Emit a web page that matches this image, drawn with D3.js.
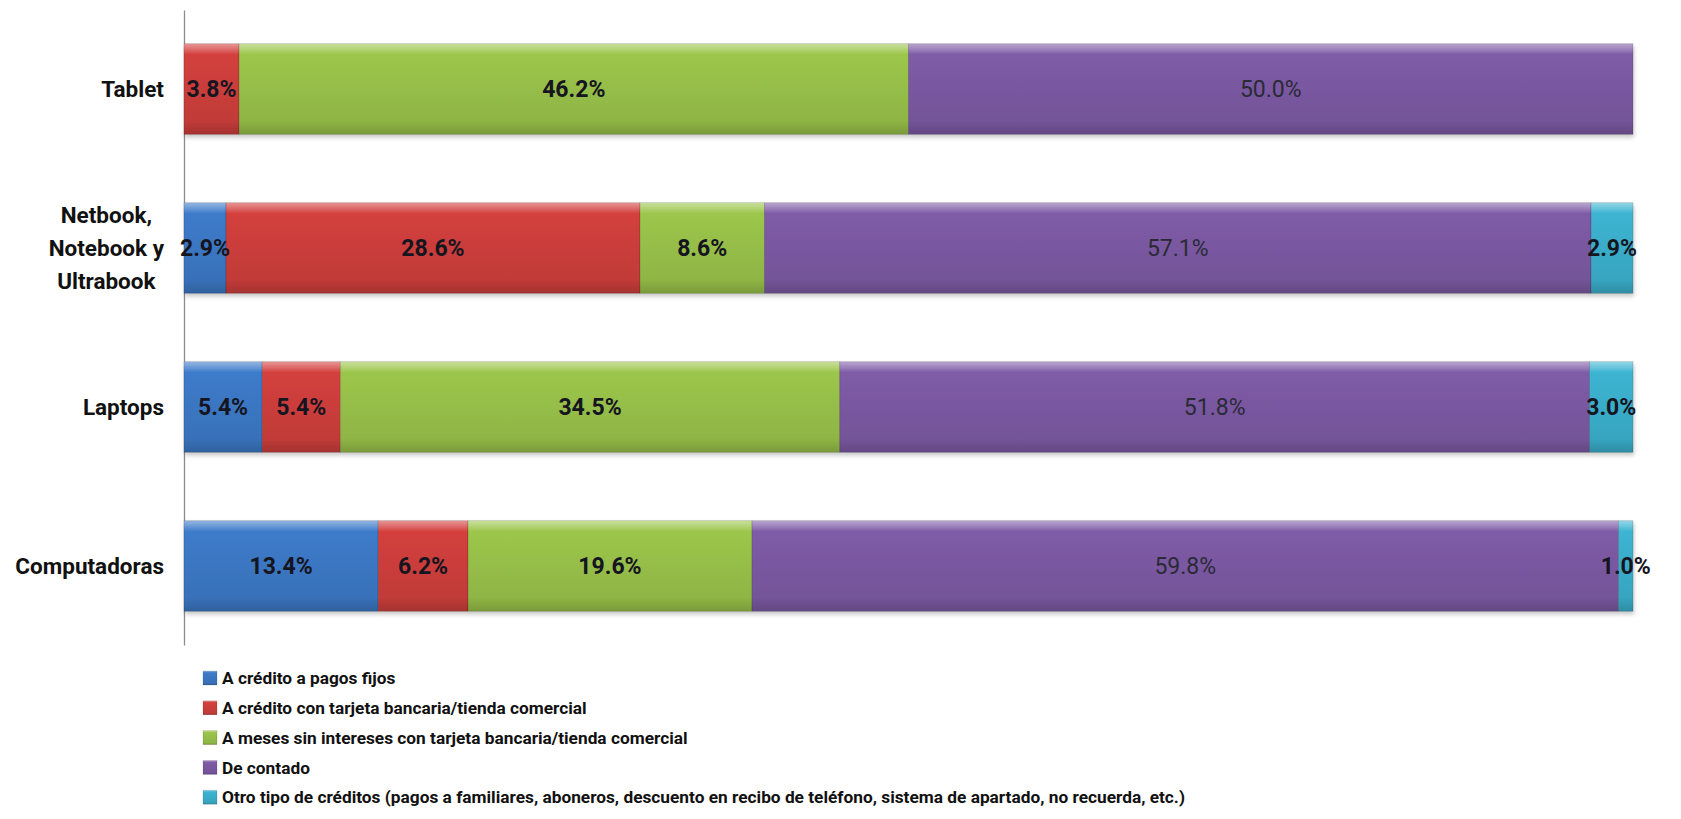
<!DOCTYPE html>
<html>
<head>
<meta charset="utf-8">
<script src="https://cdn.jsdelivr.net/npm/d3@7"></script>
<style>
  body { margin: 0; background: #fff; }
  text { font-family: Roboto, "Open Sans", sans-serif; }
</style>
</head>
<body>
<svg width="1681" height="819"></svg>
<script>
// categories, top to bottom
var categories = ["Tablet", "Netbook, Notebook y Ultrabook", "Laptops", "Computadoras"];
var catLines = [["Tablet"], ["Netbook,", "Notebook y", "Ultrabook"], ["Laptops"], ["Computadoras"]];

// series (percent per category)
var seriesNames = [
  "A crédito a pagos fijos",
  "A crédito con tarjeta bancaria/tienda comercial",
  "A meses sin intereses con tarjeta bancaria/tienda comercial",
  "De contado",
  "Otro tipo de créditos (pagos a familiares, aboneros, descuento en recibo de teléfono, sistema de apartado, no recuerda, etc.)"
];
var creditoFijos     = [0, 2.9, 5.4, 13.4];
var creditoTarjeta   = [3.8, 28.6, 5.4, 6.2];
var mesesSinInt      = [46.2, 8.6, 34.5, 19.6];
var deContado        = [50.0, 57.1, 51.8, 59.8];
var otroTipo         = [0, 2.9, 3.0, 1.0];
var seriesColors = ["#3d7bca", "#d3403d", "#9cc64b", "#7f5ca7", "#3cb4d2"];

var svg = d3.select("svg");

// build rows for the stack
var keys = ["s0", "s1", "s2", "s3", "s4"];
var allSeries = [creditoFijos, creditoTarjeta, mesesSinInt, deContado, otroTipo];
var rows = categories.map(function(c, i) {
  var r = { cat: c };
  keys.forEach(function(k, j) { r[k] = allSeries[j][i]; });
  return r;
});

var stack = d3.stack().keys(keys).offset(d3.stackOffsetExpand);
var stacked = stack(rows);

var x = d3.scaleLinear().domain([0, 1]).range([184, 1633]);
var y = d3.scaleBand().domain(categories).range([10, 645]).paddingInner(0.43).paddingOuter(0.212);

// gradients for the bevel look
var defs = svg.append("defs");
seriesColors.forEach(function(col, j) {
  var c = d3.color(col);
  var g = defs.append("linearGradient").attr("id", "grad" + j)
    .attr("x1", 0).attr("y1", 0).attr("x2", 0).attr("y2", 1);
  g.append("stop").attr("offset", "0%").attr("stop-color", d3.interpolateRgb(col, "#fff")(0.45));
  g.append("stop").attr("offset", "7%").attr("stop-color", d3.interpolateRgb(col, "#fff")(0.2));
  g.append("stop").attr("offset", "12%").attr("stop-color", col);
  g.append("stop").attr("offset", "85%").attr("stop-color", c.darker(0.25));
  g.append("stop").attr("offset", "100%").attr("stop-color", c.darker(0.7));
});
var shadow = defs.append("filter").attr("id", "shadow")
  .attr("x", "-5%").attr("y", "-20%").attr("width", "110%").attr("height", "150%");
shadow.append("feDropShadow").attr("dx", 1).attr("dy", 3).attr("stdDeviation", 2)
  .attr("flood-color", "#000").attr("flood-opacity", 0.22);

// axis line (no ticks)
svg.append("g")
  .attr("transform", "translate(184,0)")
  .call(d3.axisLeft(y).tickSize(0).tickFormat(""))
  .select(".domain").attr("stroke", "#8c8c8c").attr("stroke-width", 1.3);

var layers = svg.append("g").attr("filter", "url(#shadow)")
  .selectAll("g").data(stacked).enter().append("g")
  .attr("fill", function(d, j) { return "url(#grad" + j + ")"; });

layers.selectAll("rect")
  .data(function(d) { return d; })
  .enter().append("rect")
  .attr("x", function(d) { return x(d[0]); })
  .attr("y", function(d) { return y(d.data.cat); })
  .attr("width", function(d) { return x(d[1]) - x(d[0]); })
  .attr("height", y.bandwidth())
  .attr("stroke", "rgba(0,0,0,0.18)")
  .attr("stroke-width", 0.8);

// value labels
stacked.forEach(function(layer, j) {
  svg.append("g").selectAll("text")
    .data(layer.filter(function(d) { return d.data[keys[j]] > 0; }))
    .enter().append("text")
    .attr("x", function(d) { return (x(d[0]) + x(d[1])) / 2; })
    .attr("y", function(d) { return y(d.data.cat) + y.bandwidth() / 2; })
    .attr("dy", "0.36em")
    .attr("text-anchor", "middle")
    .attr("font-size", 23)
    .attr("font-weight", j === 3 ? "normal" : "bold")
    .attr("fill", j === 3 ? "#2a2a36" : "#15151f")
    .text(function(d) { return d.data[keys[j]].toFixed(1) + "%"; });
});

// category labels, centred lines, block right edge at x=164
categories.forEach(function(c, i) {
  var lines = catLines[i];
  var t = svg.append("text")
    .attr("font-size", 22.5)
    .attr("font-weight", "bold")
    .attr("fill", "#111")
    .attr("text-anchor", "middle");
  var lh = 33;
  var cy = y(c) + y.bandwidth() / 2;
  lines.forEach(function(l, k) {
    t.append("tspan")
      .attr("y", cy + (k - (lines.length - 1) / 2) * lh)
      .attr("dy", "0.36em")
      .text(l);
  });
  var maxW = 0;
  t.selectAll("tspan").each(function() { maxW = Math.max(maxW, this.getComputedTextLength()); });
  t.selectAll("tspan").attr("x", 164 - maxW / 2);
});

// legend
var legend = svg.append("g").attr("transform", "translate(203,678)");
var li = legend.selectAll("g").data(seriesNames).enter().append("g")
  .attr("transform", function(d, j) { return "translate(0," + (j * 29.8) + ")"; });
li.append("rect")
  .attr("x", 0).attr("y", -7).attr("width", 14).attr("height", 14)
  .attr("fill", function(d, j) { return "url(#grad" + j + ")"; })
  .attr("stroke", "rgba(0,0,0,0.2)").attr("stroke-width", 0.6);
li.append("text")
  .attr("x", 19).attr("y", 0).attr("dy", "0.36em")
  .attr("font-size", 17.3).attr("font-weight", "bold").attr("fill", "#111")
  .text(function(d) { return d; });
</script>
</body>
</html>
